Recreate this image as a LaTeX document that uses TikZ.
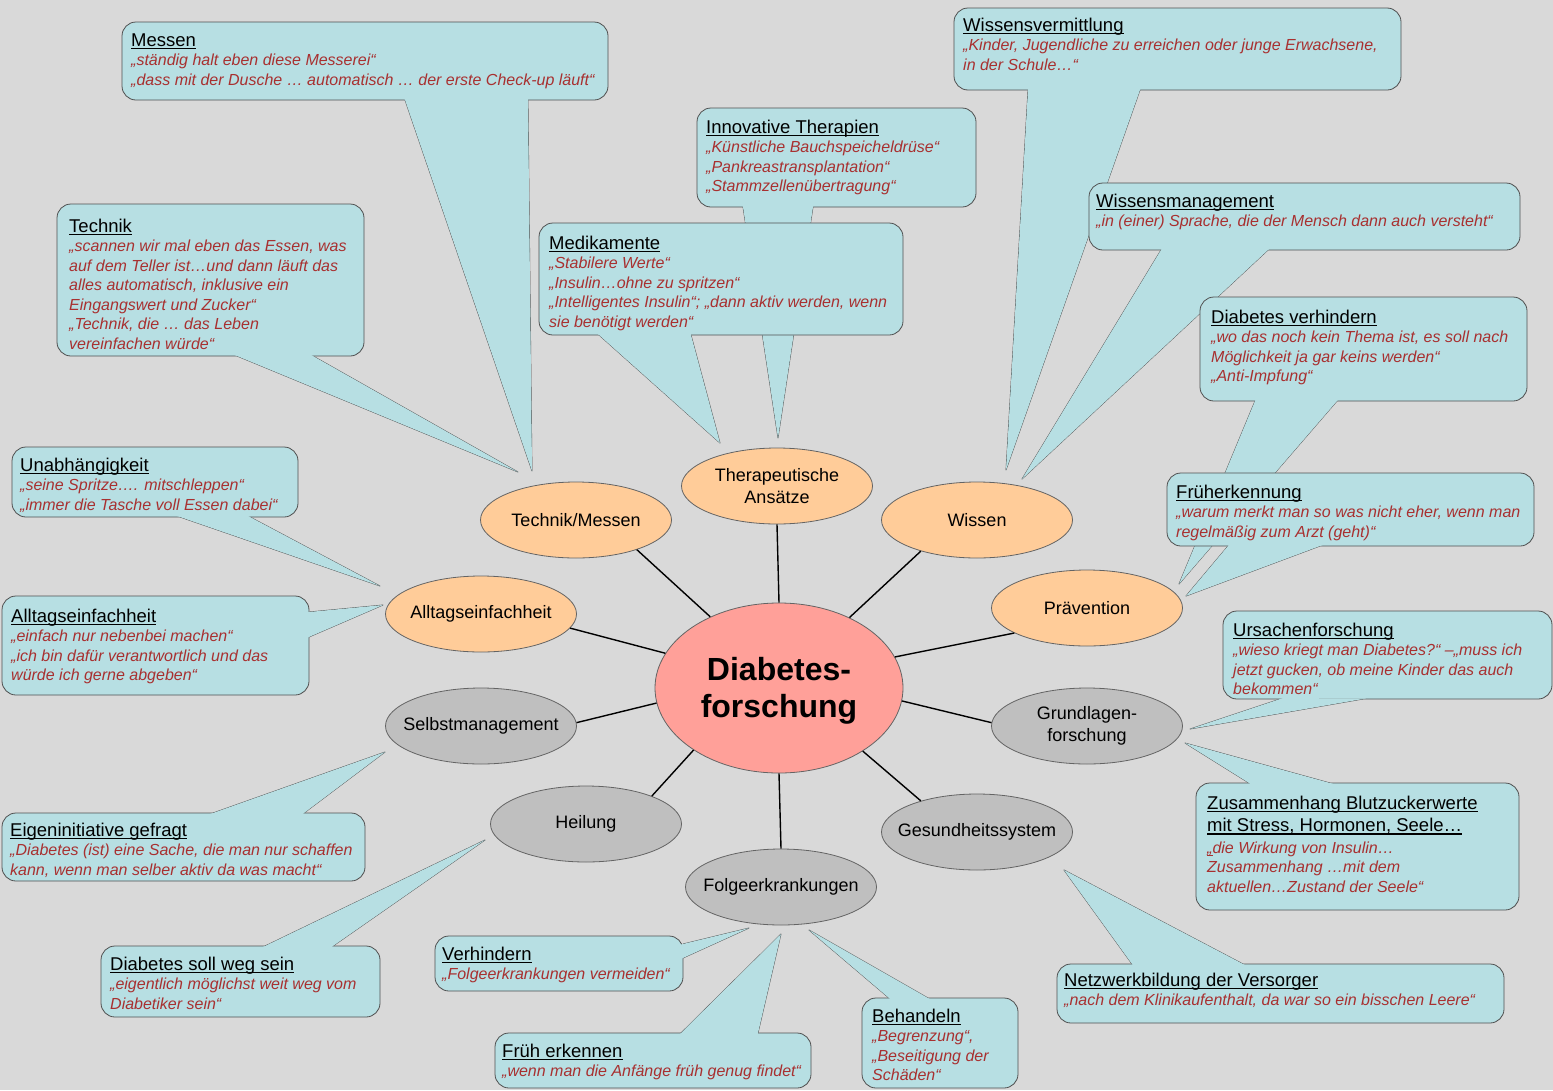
\documentclass[tikz,border=0pt]{standalone}
\usepackage{fontspec}
\setmainfont{Liberation Sans}
\usetikzlibrary{shapes.geometric,calc}
\definecolor{bg}{RGB}{217,217,217}
\definecolor{cfill}{RGB}{183,223,227}
\definecolor{cline}{RGB}{80,80,80}
\definecolor{qred}{RGB}{168,48,48}
\definecolor{orng}{RGB}{255,204,153}
\definecolor{gry}{RGB}{191,191,191}
\definecolor{ctrfill}{RGB}{255,160,153}
\definecolor{eline}{RGB}{100,100,100}
\newsavebox\ulbox
\newcommand{\myul}[1]{\sbox\ulbox{#1}\rlap{\rule[-3.2pt]{\wd\ulbox}{1.5pt}}\usebox\ulbox}
\newcommand{\ttl}[1]{{\upshape\color{black}\fontsize{18.5}{19.5}\selectfont\rule{0pt}{15pt}\myul{#1}}}
\newcommand{\bubble}[5]{%
  \filldraw[tailst] #3 -- #5 -- #4;
  \draw[boxst] #1 rectangle #2;
  \fill[cfill] ($#3!-3pt!#5$) -- #5 -- ($#4!-3pt!#5$) -- cycle;
}
\tikzset{
  boxst/.style={fill=cfill, draw=cline, line width=0.8pt, rounded corners=14pt},
  tailst/.style={fill=cfill, draw=cline, line width=0.8pt, line join=round},
  txt/.style={anchor=north west, inner sep=0pt, align=left, text=qred,
    font=\fontsize{16}{19.5}\selectfont\itshape},
  ell/.style={ellipse, draw=eline, line width=0.8pt, minimum width=191pt,
    minimum height=76pt, inner xsep=-30pt, inner ysep=0pt, align=center,
    font=\fontsize{18}{21.5}\selectfont},
  orngell/.style={ell, fill=orng},
  gryell/.style={ell, fill=gry},
  conn/.style={draw=black, line width=1.4pt}
}
\begin{document}
\begin{tikzpicture}[x=1pt,y=-1pt]
\useasboundingbox (0,0) rectangle (1553,1090);
\fill[bg] (0,0) rectangle (1553,1090);
\clip (0,0) rectangle (1553,1090);

% tips
\coordinate (messen-tip) at (532,471);
\coordinate (technik-tip) at (518,472);
\coordinate (unab-tip) at (380,586);
\coordinate (alltag-tip) at (383,605);
\coordinate (innov-tip) at (778,438);
\coordinate (medi-tip) at (720,443);
\coordinate (wverm-tip) at (1006,470);
\coordinate (wman-tip) at (1022,479);
\coordinate (dverh-tip) at (1179,584);
\coordinate (frueh-tip) at (1186,596);
\coordinate (ursa-tip) at (1190,729);
\coordinate (zus-tip) at (1185,743);
\coordinate (netz-tip) at (1064,870);
\coordinate (eigen-tip) at (385,752);
\coordinate (weg-tip) at (485,840);
\coordinate (verh-tip) at (749,928);
\coordinate (fruehe-tip) at (781,934);
\coordinate (beh-tip) at (809,930);

% callouts
\bubble{(122,22)}{(608,100)}{(405,100)}{(528,100)}{(messen-tip)}
\node[txt] (messen) at (131,31) {\ttl{Messen}\\
„ständig halt eben diese Messerei“\\
„dass mit der Dusche … automatisch … der erste Check-up läuft“};

\bubble{(57,204)}{(364,356)}{(237,356)}{(313,356)}{(technik-tip)}
\node[txt] (technik) at (69,217) {\ttl{Technik}\\
„scannen wir mal eben das Essen, was\\
auf dem Teller ist…und dann läuft das\\
alles automatisch, inklusive ein\\
Eingangswert und Zucker“\\
„Technik, die … das Leben\\
vereinfachen würde“};

\bubble{(12,447)}{(298,517)}{(180,517)}{(250,517)}{(unab-tip)}
\node[txt] (unab) at (20,456) {\ttl{Unabhängigkeit}\\
„seine Spritze…. mitschleppen“\\
„immer die Tasche voll Essen dabei“};

\bubble{(2,596)}{(309,695)}{(309,612)}{(309,637)}{(alltag-tip)}
\node[txt] (alltag) at (11,607) {\ttl{Alltagseinfachheit}\\
„einfach nur nebenbei machen“\\
„ich bin dafür verantwortlich und das\\
würde ich gerne abgeben“};

\bubble{(697,108)}{(976,207)}{(743,207)}{(813,207)}{(innov-tip)}
\node[txt] (innov) at (706,118) {\ttl{Innovative Therapien}\\
„Künstliche Bauchspeicheldrüse“\\
„Pankreastransplantation“\\
„Stammzellenübertragung“};

\bubble{(539,223)}{(903,335)}{(599,335)}{(691,335)}{(medi-tip)}
\node[txt] (medi) at (549,234) {\ttl{Medikamente}\\
„Stabilere Werte“\\
„Insulin…ohne zu spritzen“\\
„Intelligentes Insulin“; „dann aktiv werden, wenn\\
sie benötigt werden“};

\bubble{(954,8)}{(1401,90)}{(1028,90)}{(1140,90)}{(wverm-tip)}
\node[txt] (wverm) at (963,16) {\ttl{Wissensvermittlung}\\
„Kinder, Jugendliche zu erreichen oder junge Erwachsene,\\
in der Schule…“};

\bubble{(1089,183)}{(1520,250)}{(1161,250)}{(1268,250)}{(wman-tip)}
\node[txt] (wman) at (1096,192) {\ttl{Wissensmanagement}\\
„in (einer) Sprache, die der Mensch dann auch versteht“};

\bubble{(1200,297)}{(1527,401)}{(1255,401)}{(1337,401)}{(dverh-tip)}
\node[txt] (dverh) at (1211,308) {\ttl{Diabetes verhindern}\\
„wo das noch kein Thema ist, es soll nach\\
Möglichkeit ja gar keins werden“\\
„Anti-Impfung“};

\bubble{(1167,473)}{(1534,546)}{(1228,546)}{(1320,546)}{(frueh-tip)}
\node[txt] (frueh) at (1176,483) {\ttl{Früherkennung}\\
„warum merkt man so was nicht eher, wenn man\\
regelmäßig zum Arzt (geht)“};

\bubble{(1223,611)}{(1552,699)}{(1280,699)}{(1363,699)}{(ursa-tip)}
\node[txt] (ursa) at (1233,621) {\ttl{Ursachenforschung}\\
„wieso kriegt man Diabetes?“ –„muss ich\\
jetzt gucken, ob meine Kinder das auch\\
bekommen“};

\bubble{(1196,783)}{(1519,910)}{(1249,783)}{(1330,783)}{(zus-tip)}
\node[txt] (zus) at (1207,794) {\ttl{Zusammenhang Blutzuckerwerte}\\[3pt]
\ttl{mit Stress, Hormonen, Seele…}\\[2pt]
\myul{„}die Wirkung von Insulin…\\
Zusammenhang …mit dem\\
aktuellen…Zustand der Seele“};

\bubble{(1057,964)}{(1504,1023)}{(1132,964)}{(1243,964)}{(netz-tip)}
\node[txt] (netz) at (1064,971) {\ttl{Netzwerkbildung der Versorger}\\
„nach dem Klinikaufenthalt, da war so ein bisschen Leere“};

\bubble{(2,813)}{(365,881)}{(213,813)}{(304,813)}{(eigen-tip)}
\node[txt] (eigen) at (10,821) {\ttl{Eigeninitiative gefragt}\\
„Diabetes (ist) eine Sache, die man nur schaffen\\
kann, wenn man selber aktiv da was macht“};

\bubble{(101,946)}{(380,1017)}{(265,946)}{(333,946)}{(weg-tip)}
\node[txt] (weg) at (110,955) {\ttl{Diabetes soll weg sein}\\
„eigentlich möglichst weit weg vom\\
Diabetiker sein“};

\bubble{(435,936)}{(683,991)}{(683,944)}{(683,958)}{(verh-tip)}
\node[txt] (verh) at (442,945) {\ttl{Verhindern}\\
„Folgeerkrankungen vermeiden“};

\bubble{(495,1033)}{(811,1088)}{(681,1033)}{(758,1033)}{(fruehe-tip)}
\node[txt] (fruehe) at (502,1042) {\ttl{Früh erkennen}\\
„wenn man die Anfänge früh genug findet“};

\bubble{(862,998)}{(1018,1088)}{(889,998)}{(928,998)}{(beh-tip)}
\node[txt] (beh) at (872,1007) {\ttl{Behandeln}\\
„Begrenzung“,\\
„Beseitigung der\\
Schäden“};

% central mind map
\node[ellipse, draw=eline, line width=0.8pt, fill=ctrfill, minimum width=248pt,
  minimum height=170pt, inner sep=0pt, align=center,
  font=\fontsize{32}{37.5}\selectfont\bfseries] (ctr) at (779,688)
  {\rule{0pt}{29pt}Diabetes-\\forschung};

\node[orngell] (tm) at (576,520) {Technik/Messen};
\node[orngell] (ta) at (777,486) {Therapeutische\\Ansätze};
\node[orngell] (wi) at (977,520) {Wissen};
\node[orngell] (al) at (481,614) {Alltagseinfachheit};
\node[orngell] (pr) at (1087,608) {Prävention};
\node[gryell] (sm) at (481,726) {Selbstmanagement};
\node[gryell] (gf) at (1087,726) {Grundlagen-\\forschung};
\node[gryell] (he) at (586,824) {Heilung};
\node[gryell] (gs) at (977,832) {Gesundheitssystem};
\node[gryell] (fe) at (781,887) {Folgeerkrankungen};

% connectors
\draw[conn] (ctr.134.6) -- (tm.-26.6);
\draw[conn] (ctr.90.5) -- (ta.-90);
\draw[conn] (ctr.45) -- (wi.-151);
\draw[conn] (ctr.163.9) -- (al.-9.5);
\draw[conn] (ctr.15.4) -- (pr.-161);
\draw[conn] (ctr.187.5) -- (sm.2.4);
\draw[conn] (ctr.-6.9) -- (gf.178.8);
\draw[conn] (ctr.-144.3) -- (he.23.3);
\draw[conn] (ctr.-37.2) -- (gs.151);
\draw[conn] (ctr.-90) -- (fe.90);
\end{tikzpicture}
\end{document}
